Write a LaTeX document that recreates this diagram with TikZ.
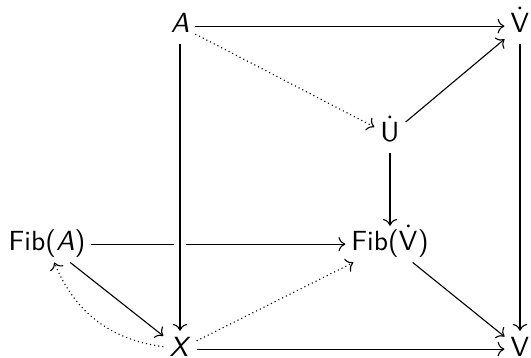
\documentclass[tikz,border=0pt]{standalone}
\usepackage{amsmath}
\usepackage{tikz}
\usetikzlibrary{arrows.meta}
\tikzset{
    obj/.style={font=\sffamily, anchor=base, inner sep=2pt, text height=1.6ex, text depth=0.45ex},
    map/.style={-{Computer Modern Rightarrow}, line width=0.4pt},
    lift/.style={map, dash pattern=on 0.4pt off 1.1pt},
}

\begin{document}
\begin{tikzpicture}[x=0.361pt, y=-0.361pt]
    \useasboundingbox (0,0) rectangle (531,358);

    % Top row
    \node[obj] (A) at (180,33) {\textit{A}};
    \node[obj] (Vd) at (520,33) {$\dot{\mathsf{V}}$};

    % Universe
    \node[obj] (Ud) at (390,142) {$\dot{\mathsf{U}}$};

    % Fibrations
    \node[obj] (FA) at (47,251) {Fib(\textit{A})};
    \node[obj] (FV) at (390,251) {Fib($\dot{\mathsf{V}}$)};

    % Bottom row
    \node[obj] (X) at (180,356) {\textit{X}};
    \node[obj] (V) at (520,356) {$\mathsf{V}$};

    % Back square
    \draw[map] (A) -- (Vd);
    \draw[map] (Vd) -- (V);
    \draw[map] (X) -- (V);

    % Front face, broken by the vertical arrow
    \draw[map] (FA) -- (FV);
    \draw[map, preaction={draw=white, line width=4.5pt, -}] (A) -- (X);
    \draw[map] (FA) -- (X);
    \draw[map] (FV) -- (V);

    % Through the universe
    \draw[map] (Ud) -- (Vd);
    \draw[map] (Ud) -- (FV);

    % Dotted maps
    \draw[lift] (A) -- (Ud);
    \draw[lift] (X) -- (FV);
    \draw[lift] (X) to[bend left=30] (FA);
\end{tikzpicture}
\end{document}
